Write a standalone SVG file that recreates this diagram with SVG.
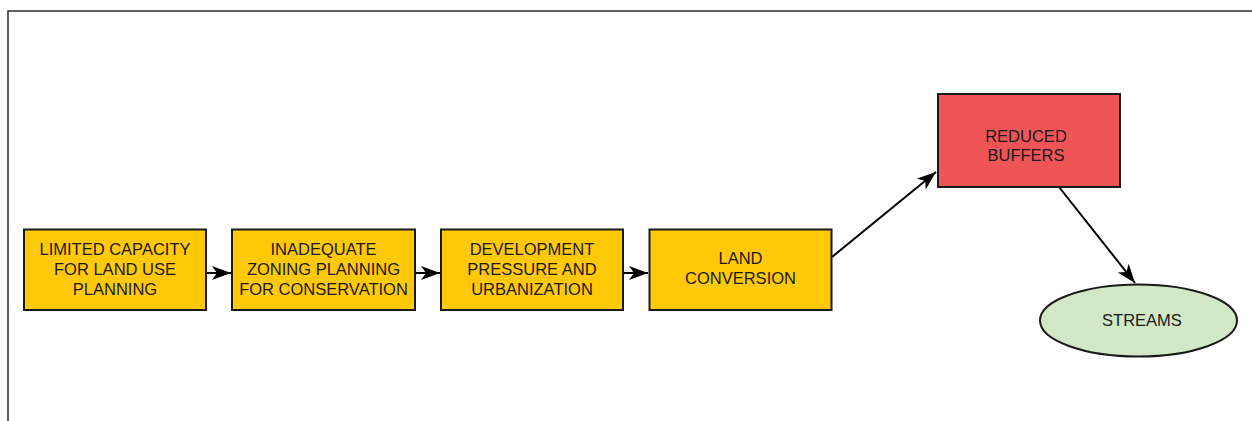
<svg xmlns="http://www.w3.org/2000/svg" width="1252" height="421" viewBox="0 0 1252 421">
<style>
.box{stroke:#1a1a1a;stroke-width:2}
.y{fill:#FFC808}
.r{fill:#EF5456}
.g{fill:#D1E7C5}
text{font-family:"Liberation Sans",Arial,sans-serif;font-size:16.5px;fill:#1a1a1a;text-anchor:middle}
.c{stroke:#000;stroke-width:2;fill:none;marker-end:url(#ah)}
</style>
<defs>
<marker id="ah" markerWidth="20" markerHeight="16" viewBox="0 0 20 16" refX="19" refY="8" orient="auto" markerUnits="userSpaceOnUse">
<path d="M0,1 L19,8 L0,15 L5,8 Z" fill="#000"/>
</marker>
</defs>
<rect x="8" y="11" width="1260" height="420" fill="none" stroke="#2a2a2a" stroke-width="1.5"/>
<g id="connectors">
<line class="c" x1="206" y1="273" x2="231" y2="273"/>
<line class="c" x1="415" y1="273" x2="440" y2="273"/>
<line class="c" x1="623" y1="273" x2="648" y2="273"/>
<line class="c" x1="832" y1="257" x2="936" y2="172"/>
<line class="c" x1="1059" y1="187" x2="1135" y2="283"/>
</g>
<g id="n1">
<rect class="box y" x="24" y="229.5" width="182" height="80.5"/>
<text x="115" y="255">LIMITED CAPACITY</text>
<text x="115" y="275">FOR LAND USE</text>
<text x="115" y="295">PLANNING</text>
</g>
<g id="n2">
<rect class="box y" x="232" y="229.5" width="183" height="80.5"/>
<text x="323.5" y="255">INADEQUATE</text>
<text x="323.5" y="275">ZONING PLANNING</text>
<text x="323.5" y="295">FOR CONSERVATION</text>
</g>
<g id="n3">
<rect class="box y" x="441" y="229.5" width="182" height="80.5"/>
<text x="532" y="255">DEVELOPMENT</text>
<text x="532" y="275">PRESSURE AND</text>
<text x="532" y="295">URBANIZATION</text>
</g>
<g id="n4">
<rect class="box y" x="649.5" y="229.5" width="182" height="80.5"/>
<text x="740.5" y="263.5">LAND</text>
<text x="740.5" y="283.5">CONVERSION</text>
</g>
<g id="n5">
<rect class="box r" x="938" y="94" width="182" height="93"/>
<text x="1026" y="141.5">REDUCED</text>
<text x="1026" y="161">BUFFERS</text>
</g>
<g id="n6">
<ellipse class="box g" cx="1138.5" cy="320.5" rx="98.5" ry="36"/>
<text x="1142" y="326">STREAMS</text>
</g>
</svg>
